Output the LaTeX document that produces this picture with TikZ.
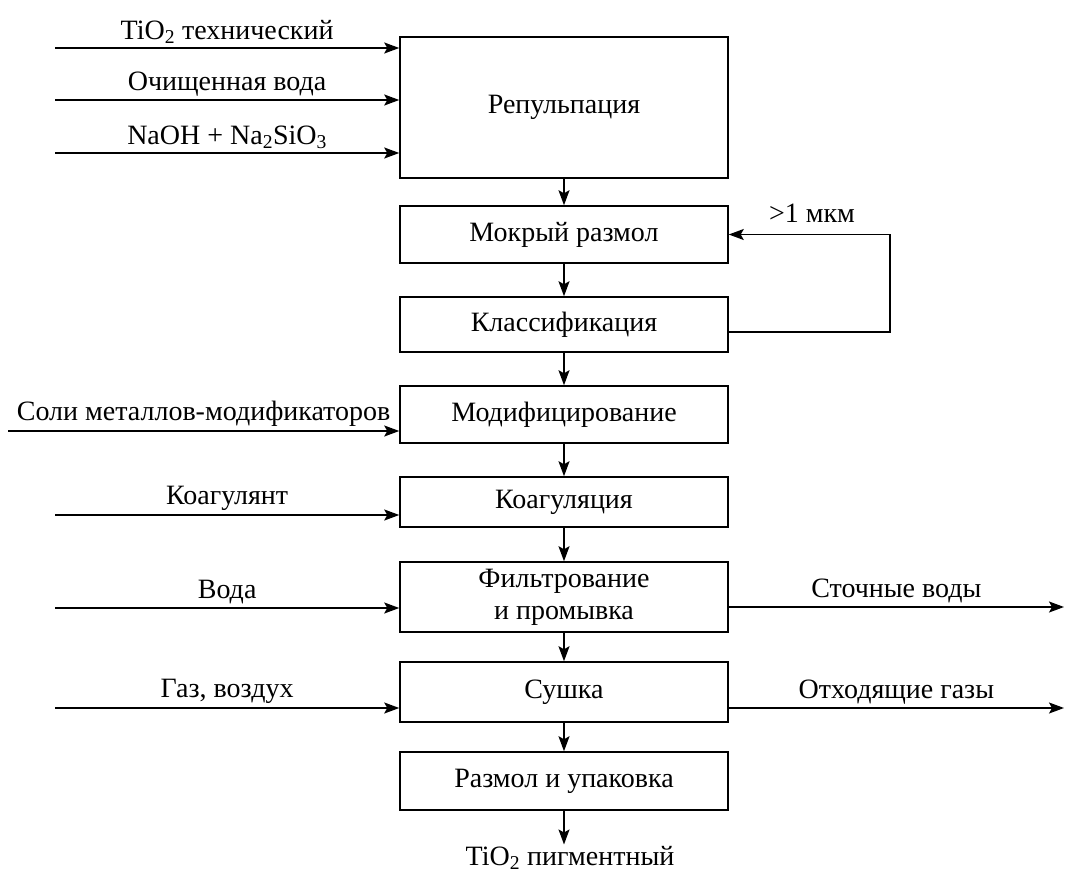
\documentclass[tikz,border=0pt]{standalone}
\usepackage{fontspec}
\setmainfont{Liberation Serif}
\usetikzlibrary{arrows.meta}
\begin{document}
\begin{tikzpicture}
[x=1pt, y=-1pt, font=\fontsize{28}{32}\selectfont, line width=1.5pt,
 >={Stealth[length=15pt, width=11pt, inset=3pt]}]
\tikzstyle{block}=[draw, rectangle, minimum width=328pt, inner sep=2pt, align=center]
\tikzstyle{flow}=[->]
\useasboundingbox (0,0) rectangle (1065,875);

\node[block, minimum height=141pt] (repulp)  at (564,107.5) {Репульпация};
\node[block, minimum height=57pt]  (wetmill) at (564,234.5) {Мокрый размол};
\node[block, minimum height=55pt]  (classif) at (564,324.5) {Классификация};
\node[block, minimum height=57pt]  (modif)   at (564,414.5) {Модифицирование};
\node[block, minimum height=50pt]  (coag)    at (564,502)   {Коагуляция};
\node[block, minimum height=70pt]  (filter)  at (564,597)   {Фильтрование\\и промывка};
\node[block, minimum height=60pt]  (dryer)   at (564,692)   {Сушка};
\node[block, minimum height=58pt]  (pack)    at (564,781)   {Размол и упаковка};
\node[inner sep=1pt]               (product) at (570,858)   {TiO\textsubscript{2} пигментный};

\coordinate (tio)   at (55,48);
\coordinate (water) at (55,100);
\coordinate (naoh)  at (55,153);
\coordinate (salts) at (8,431);
\coordinate (coagin) at (55,515);
\coordinate (wash)  at (55,608);
\coordinate (gas)   at (55,708);
\coordinate (waste) at (1064,607);
\coordinate (fumes) at (1064,708);
\coordinate (loop)  at (890,332);

\draw[flow] (tio)   -- (tio -| repulp.west)   node[midway, above] {TiO\textsubscript{2} технический};
\draw[flow] (water) -- (water -| repulp.west) node[midway, above] {Очищенная вода};
\draw[flow] (naoh)  -- (naoh -| repulp.west)  node[midway, above] {NaOH + Na\textsubscript{2}SiO\textsubscript{3}};
\draw[flow] (salts) -- (salts -| modif.west)  node[midway, above] {Соли металлов-модификаторов};
\draw[flow] (coagin) -- (coagin -| coag.west) node[midway, above] {Коагулянт};
\draw[flow] (wash)  -- (wash -| filter.west)  node[midway, above] {Вода};
\draw[flow] (gas)   -- (gas -| dryer.west)    node[midway, above] {Газ, воздух};
\draw[flow] (waste -| filter.east) -- (waste) node[midway, above] {Сточные воды};
\draw[flow] (fumes -| dryer.east)  -- (fumes) node[midway, above] {Отходящие газы};

\draw[flow] (repulp) -- (wetmill);
\draw[flow] (wetmill) -- (classif);
\draw[flow] (classif) -- (modif);
\draw[flow] (modif) -- (coag);
\draw[flow] (coag) -- (filter);
\draw[flow] (filter) -- (dryer);
\draw[flow] (dryer) -- (pack);
\draw[flow] (pack) -- (pack |- product.north);

\draw[flow] (loop -| classif.east) -- (loop) |- (wetmill.east);
\node (size) at (812,213) {>1 мкм};
\end{tikzpicture}
\end{document}
